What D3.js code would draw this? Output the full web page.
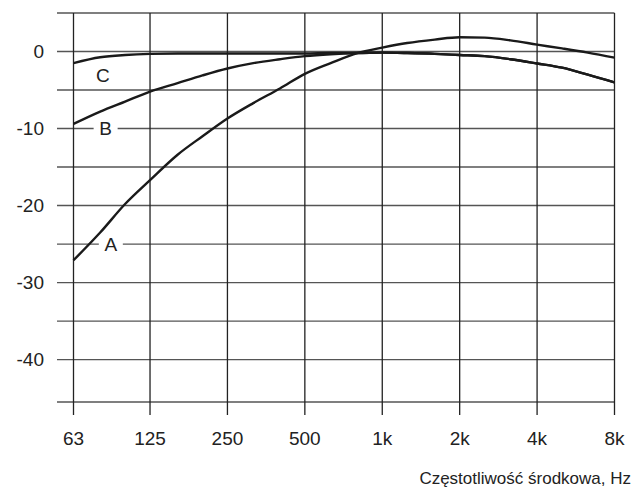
<!DOCTYPE html>
<html>
<head>
<meta charset="utf-8">
<script src="https://cdn.jsdelivr.net/npm/d3@7"></script>
<style>
  html, body { margin: 0; padding: 0; background: #fff; }
  svg { display: block; }
  text { font-family: "Liberation Sans", Arial, sans-serif; fill: #222; }
</style>
</head>
<body>
<svg id="chart" width="633" height="487"></svg>
<script>
// 1/3-octave centre frequencies, Hz
const freqs = [63, 80, 100, 125, 160, 200, 250, 315, 400, 500, 630, 800,
               1000, 1250, 1600, 2000, 2500, 3150, 4000, 5000, 6300, 8000];

// Weighting curves, dB
const weightA = [-27.1, -23.5, -19.8, -16.7, -13.4, -11.0, -8.7, -6.7, -4.8, -2.9, -1.5, -0.2,
                 0.5, 1.1, 1.55, 1.85, 1.8, 1.45, 0.9, 0.4, -0.15, -0.8];
const weightB = [-9.4, -7.8, -6.5, -5.2, -4.1, -3.1, -2.2, -1.5, -1.0, -0.6, -0.35, -0.2,
                 -0.15, -0.2, -0.3, -0.45, -0.6, -1.0, -1.55, -2.1, -3.0, -4.0];
const weightC = [-1.5, -0.75, -0.45, -0.3, -0.25, -0.25, -0.25, -0.25, -0.25, -0.25, -0.2, -0.2,
                 -0.15, -0.2, -0.3, -0.45, -0.6, -1.0, -1.55, -2.1, -3.0, -4.0];

// Octave ticks and their labels
const xTickValues = [63, 125, 250, 500, 1000, 2000, 4000, 8000];
const xTickLabels = ["63", "125", "250", "500", "1k", "2k", "4k", "8k"];
const yGridValues = [5, 0, -5, -10, -15, -20, -25, -30, -35, -40];
const yLabelValues = [0, -10, -20, -30, -40];

const curveNames = ["A", "B", "C"];
const xTitle = "Częstotliwość środkowa, Hz";

const svg = d3.select("#chart");

const x = d3.scaleLog().base(2).domain([63, 8000]).range([73.5, 614.5]);
const y = d3.scaleLinear().domain([5, -45.5]).range([13, 402]);

const gridLeft = 57;

// horizontal grid
svg.append("g").selectAll("line")
  .data(yGridValues.concat([-45.5]))
  .join("line")
  .attr("x1", gridLeft).attr("x2", x(8000))
  .attr("y1", d => y(d)).attr("y2", d => y(d))
  .attr("stroke", "#555").attr("stroke-width", 1.4);

// vertical grid (octaves), with short ticks below the frame
svg.append("g").selectAll("line")
  .data(xTickValues)
  .join("line")
  .attr("x1", d => x(d)).attr("x2", d => x(d))
  .attr("y1", y(5)).attr("y2", y(-45.5) + 13)
  .attr("stroke", "#222").attr("stroke-width", 1.3);

// x tick labels
svg.append("g").selectAll("text")
  .data(xTickValues)
  .join("text")
  .attr("x", d => x(d))
  .attr("y", 445)
  .attr("text-anchor", "middle")
  .attr("font-size", 19)
  .text((d, i) => xTickLabels[i]);

// y tick labels (plain hyphen for the minus sign)
svg.append("g").selectAll("text")
  .data(yLabelValues)
  .join("text")
  .attr("x", 44)
  .attr("y", d => y(d))
  .attr("dy", "0.35em")
  .attr("text-anchor", "end")
  .attr("font-size", 19)
  .text(d => String(d));

// axis title
svg.append("text")
  .attr("x", 631)
  .attr("y", 484)
  .attr("text-anchor", "end")
  .attr("font-size", 17)
  .text(xTitle);

// curves
const line = d3.line()
  .x(d => x(d[0]))
  .y(d => y(d[1]))
  .curve(d3.curveMonotoneX);

const series = [weightA, weightB, weightC];
svg.append("g").selectAll("path")
  .data(series)
  .join("path")
  .attr("d", vals => line(freqs.map((f, i) => [f, vals[i]])))
  .attr("fill", "none")
  .attr("stroke", "#1a1a1a")
  .attr("stroke-width", 2.4)
  .attr("stroke-linejoin", "round");

// curve labels (A and B sit on grid lines, so they get a white backing)
const labelSpots = [
  { name: curveNames[0], f: 88, v: -25, box: true },
  { name: curveNames[1], f: 84, v: -10, box: true },
  { name: curveNames[2], f: 82, v: -3.1, box: false }
];
const lg = svg.append("g");
labelSpots.forEach(s => {
  if (s.box) {
    lg.append("rect")
      .attr("x", x(s.f) - 12).attr("y", y(s.v) - 3)
      .attr("width", 24).attr("height", 6)
      .attr("fill", "#fff");
  }
  lg.append("text")
    .attr("x", x(s.f))
    .attr("y", y(s.v))
    .attr("dy", "0.35em")
    .attr("text-anchor", "middle")
    .attr("font-size", 19)
    .text(s.name);
});
</script>
</body>
</html>
